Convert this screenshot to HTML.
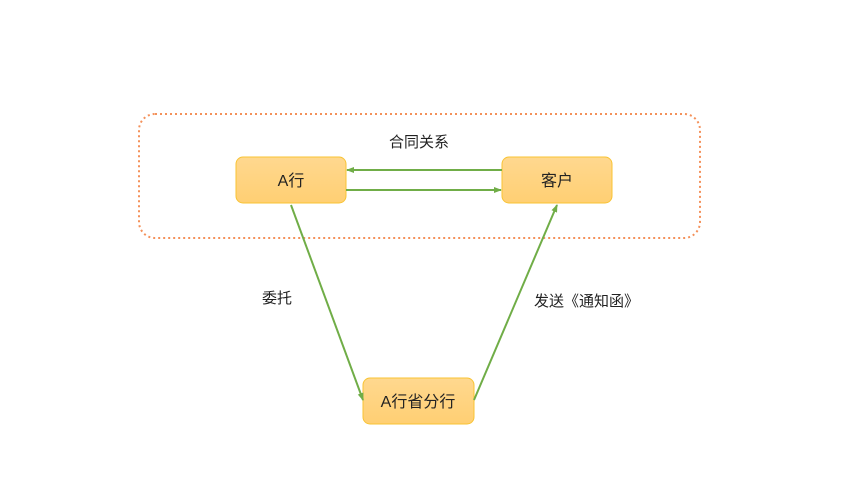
<!DOCTYPE html>
<html><head><style>body{margin:0;background:#fff}</style></head><body>
<svg width="864" height="481" xmlns="http://www.w3.org/2000/svg" font-family="Liberation Sans, Noto Sans CJK SC, sans-serif">
<defs>
<linearGradient id="g" x1="0" y1="0" x2="0" y2="1"><stop offset="0" stop-color="#ffd88f"/><stop offset="1" stop-color="#ffcf73"/></linearGradient>
<marker id="a" markerWidth="8" markerHeight="8" refX="7" refY="4" orient="auto" markerUnits="userSpaceOnUse"><path d="M0,1 L8,4 L0,7 z" fill="#70ad47"/></marker>
</defs>
<rect x="139" y="114" width="561" height="124" rx="16" fill="none" stroke="#f4915a" stroke-width="2" stroke-dasharray="2,3"/>
<text x="419" y="147" font-size="15" text-anchor="middle" fill="#222">合同关系</text>
<rect x="236" y="157" width="110" height="46" rx="7" fill="url(#g)" stroke="#f8c333" stroke-width="1"/>
<rect x="502" y="157" width="110" height="46" rx="7" fill="url(#g)" stroke="#f8c333" stroke-width="1"/>
<rect x="363" y="378" width="111" height="46" rx="7" fill="url(#g)" stroke="#f8c333" stroke-width="1"/>
<text x="291" y="186" font-size="16" text-anchor="middle" fill="#222">A行</text>
<text x="557" y="186" font-size="16" text-anchor="middle" fill="#222">客户</text>
<text x="418" y="407" font-size="16" text-anchor="middle" fill="#222">A行省分行</text>
<g stroke="#70ad47" stroke-width="2" fill="none">
<line x1="502" y1="170" x2="347" y2="170" marker-end="url(#a)"/>
<line x1="346" y1="190" x2="501" y2="190" marker-end="url(#a)"/>
<line x1="291" y1="205" x2="363" y2="400" marker-end="url(#a)"/>
<line x1="474" y1="400" x2="557" y2="205" marker-end="url(#a)"/>
</g>
<text x="262" y="303" font-size="15" fill="#222">委托</text>
<text x="534" y="306" font-size="15" fill="#222">发送《通知函》</text>
</svg>
</body></html>
